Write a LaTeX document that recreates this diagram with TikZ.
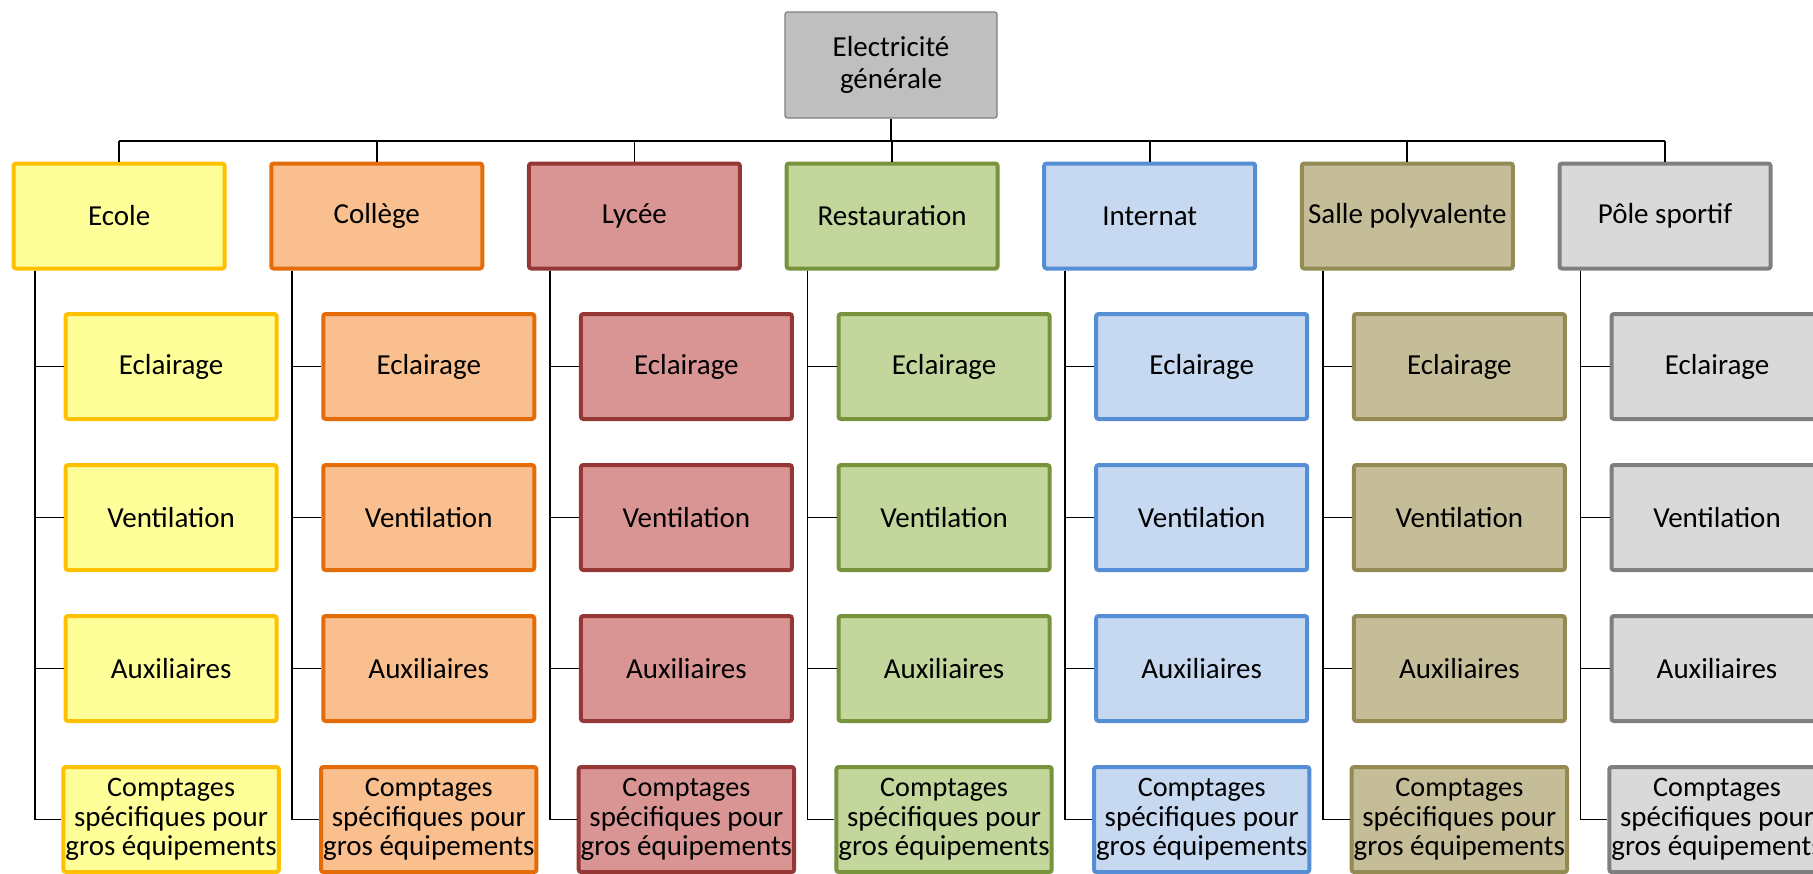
\documentclass[tikz,border=0pt]{standalone}
\usepackage{fontspec}
\setmainfont{Carlito}
% fills and outlines of the seven site branches
\definecolor{f0}{HTML}{FFFF99}\definecolor{l0}{HTML}{FFC000}
\definecolor{f1}{HTML}{F9BF8F}\definecolor{l1}{HTML}{E36C09}
\definecolor{f2}{HTML}{D99594}\definecolor{l2}{HTML}{953735}
\definecolor{f3}{HTML}{C3D69B}\definecolor{l3}{HTML}{77933C}
\definecolor{f4}{HTML}{C6D9F1}\definecolor{l4}{HTML}{558ED5}
\definecolor{f5}{HTML}{C4BD97}\definecolor{l5}{HTML}{948A54}
\definecolor{f6}{HTML}{D9D9D9}\definecolor{l6}{HTML}{7F7F7F}
\definecolor{rootfill}{HTML}{BFBFBF}\definecolor{rootline}{HTML}{7F7F7F}
\begin{document}
\begin{tikzpicture}[x=0.5pt,y=-0.5pt,
  box/.style={draw, line width=2pt, rounded corners=1.2pt,
    minimum width=105.5pt, minimum height=52.5pt, align=center,
    inner sep=1pt, font=\fontsize{14.5}{14.6}\selectfont},
  link/.style={draw=black, line width=0.9pt}]
\useasboundingbox (0,0) rectangle (1813,873);
\clip (0,0) rectangle (1813,873);
\coordinate (bus) at (0,141);

% root of the tree
\node[box, draw=rootline, fill=rootfill, line width=0.6pt,
      minimum width=106pt, minimum height=53pt,
      font=\fontsize{14.5}{16}\selectfont] (root) at (891,65)
      {Electricité\\générale};

% site branches and their sub-meters
\foreach \i/\lbl in {0/Ecole,1/Collège,2/Lycée,3/Restauration,
                     4/Internat,5/Salle polyvalente,6/Pôle sportif}{
  \pgfmathsetmacro\cx{119.1+257.65*\i}
  \node[box, draw=l\i, fill=f\i] (p\i) at (\cx,216) {\lbl};
  \draw[link] (p\i.north) -- (p\i.north |- bus);
  \foreach \j/\t in {0/Eclairage,1/Ventilation,2/Auxiliaires,
      3/{\fontsize{14.1}{14.4}\selectfont Comptages\\spécifiques pour\\gros équipements}}{
    \node[box, draw=l\i, fill=f\i] (c\i-\j) at (\cx+52,366.5+151*\j) {\t};
    \draw[link] ([xshift=-42.25pt]p\i.south) |- (c\i-\j.west);
  }
}
\draw[link] (p0.north |- bus) -- (p6.north |- bus);
\draw[link] (root.south) -- (root.south |- bus);
\end{tikzpicture}
\end{document}
